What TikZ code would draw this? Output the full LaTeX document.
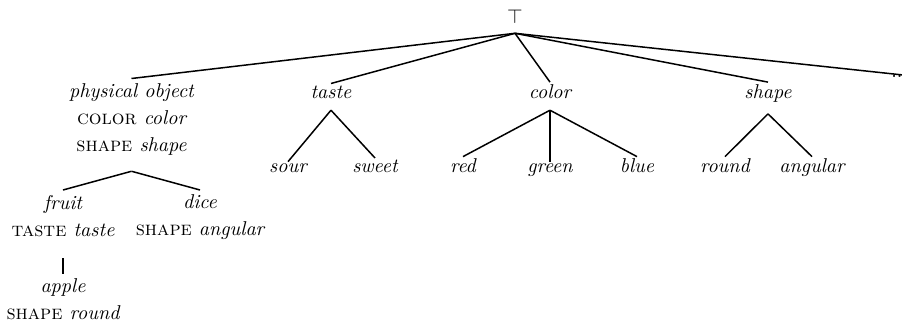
\documentclass[tikz,border=0pt]{standalone}
\begin{document}
\begin{tikzpicture}[x=0.5pt,y=-0.5pt,
  edge/.style={line width=0.75pt},
  w/.style={inner sep=0pt, outer sep=1pt, font=\fontsize{10}{13.5}\selectfont\itshape, anchor=base},
  wm/.style={inner sep=0pt, outer sep=2.5pt, align=center, font=\fontsize{10}{13.5}\selectfont\itshape, anchor=north},
  topn/.style={inner sep=0pt, outer sep=0pt, anchor=south}]
\useasboundingbox (0,0) rectangle (902,322);
\node[topn] (top) at (515,23.3) {$\top$};
% level 1
\node[wm] (po) at (131.5,78.5) {physical object\\\textup{\textsc{color}} color\\\textup{\textsc{shape}} shape};
\node[w] (taste) at (331,98) {taste};
\node[w] (color) at (550,98) {color};
\node[w] (shape) at (768,98) {shape};
\node[inner sep=0pt, anchor=base west] (dots) at (891,77.5) {..};
% level 2
\node[w] (sour) at (288,172.5) {sour};
\node[w] (sweet) at (375,172.5) {sweet};
\node[w] (red) at (463,172.5) {red};
\node[w] (green) at (550,172.5) {green};
\node[w] (blue) at (637,172.5) {blue};
\node[w] (round) at (725,172.5) {round};
\node[w] (angular) at (812,172.5) {angular};
\node[wm] (fruit) at (63,190) {fruit\\\textup{\textsc{taste}} taste};
\node[wm] (dice) at (200,190) {dice\\\textup{\textsc{shape}} angular};
\node[wm] (apple) at (63,273.5) {apple\\\textup{\textsc{shape}} round};
% edges
\foreach \c in {po,taste,color,shape} \draw[edge] ([yshift=-5pt]top.south) -- (\c.north);
\draw[edge] ([yshift=-5pt]top.south) -- (dots.north east);
\foreach \c in {sour,sweet} \draw[edge] ([yshift=-5pt]taste.south) -- (\c.north);
\foreach \c in {red,green,blue} \draw[edge] ([yshift=-5pt]color.south) -- (\c.north);
\foreach \c in {round,angular} \draw[edge] ([yshift=-5pt]shape.south) -- (\c.north);
\foreach \c in {fruit,dice} \draw[edge] ([yshift=-5.5pt]po.south) -- (\c.north);
\draw[edge] ([yshift=-8.5pt]fruit.south) -- (apple.north);
\end{tikzpicture}
\end{document}
